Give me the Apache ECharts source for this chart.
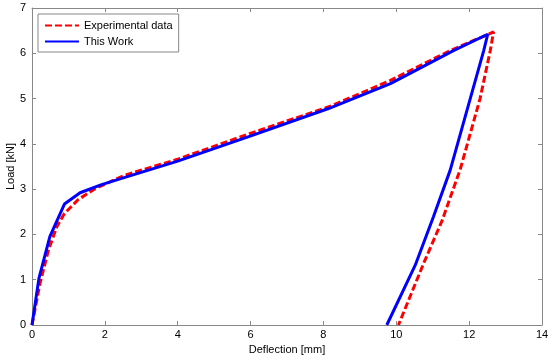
<!DOCTYPE html>
<html>
<head>
<meta charset="utf-8">
<script src="https://cdn.jsdelivr.net/npm/echarts@6/dist/echarts.min.js"></script>
<style>html,body{margin:0;padding:0;background:#fff}#c{width:550px;height:358px}</style>
</head>
<body>
<div id="c"></div>
<script>
var expX = [0, 0.22, 0.45, 0.68, 0.89, 1.27, 1.73, 2.19, 2.55, 4.0, 5.99, 8.19, 9.84, 11.48, 12.67, 12.58, 12.3, 11.76, 11.26, 10.75, 10.06];
var expY = [0, 0.92, 1.65, 2.17, 2.46, 2.77, 3.01, 3.18, 3.31, 3.66, 4.23, 4.83, 5.40, 6.06, 6.47, 6.06, 5.0, 3.45, 2.31, 1.36, 0];
var workX = [0, 0.19, 0.49, 0.89, 1.32, 1.91, 2.55, 4.0, 5.99, 8.14, 9.84, 11.57, 12.51, 12.4, 11.48, 11.02, 10.52, 9.74];
var workY = [0, 1.03, 1.95, 2.67, 2.92, 3.10, 3.26, 3.62, 4.17, 4.78, 5.33, 6.06, 6.42, 6.06, 3.42, 2.39, 1.32, 0];
var xTicks = [0, 2, 4, 6, 8, 10, 12, 14];
var yTicks = [0, 1, 2, 3, 4, 5, 6, 7];

function pairs(xs, ys) { return xs.map(function (x, i) { return [x, ys[i]]; }); }

var chart = echarts.init(document.getElementById('c'));
var font = 'Liberation Sans, Arial, sans-serif';
var axisCol = '#888888';
function baseAxis(pos, isX, labels) {
  return {
    type: 'value', position: pos,
    min: 0, max: isX ? 14 : 7, interval: isX ? 2 : 1,
    axisLine: { show: true, onZero: false, lineStyle: { color: axisCol, width: 1 } },
    axisTick: { show: true, inside: true, length: 4, lineStyle: { color: axisCol } },
    axisLabel: { show: labels, color: '#000', fontFamily: font, fontSize: 11, margin: 4 },
    splitLine: { show: false }
  };
}
var xBottom = baseAxis('bottom', true, true);
xBottom.name = 'Deflection [mm]'; xBottom.nameLocation = 'middle'; xBottom.nameGap = 17;
xBottom.nameTextStyle = { color: '#000', fontFamily: font, fontSize: 11 };
var yLeft = baseAxis('left', false, true);
yLeft.name = 'Load [kN]'; yLeft.nameLocation = 'middle'; yLeft.nameGap = 16;
yLeft.nameMoveOverlap = false;
yLeft.nameTextStyle = { color: '#000', fontFamily: font, fontSize: 11 };
yLeft.axisLabel.margin = 6;

chart.setOption({
  animation: false,
  backgroundColor: '#fff',
  grid: { left: 32, right: 8, top: 8, bottom: 33, containLabel: false, outerBoundsMode: 'none' },
  xAxis: [xBottom, baseAxis('top', true, false)],
  yAxis: [yLeft, baseAxis('right', false, false)],
  legend: {
    orient: 'vertical', left: 38, top: 14,
    backgroundColor: '#fff', borderColor: '#888', borderWidth: 1,
    padding: [6, 6, 5, 6], itemGap: 5, itemWidth: 34, itemHeight: 12,
    itemStyle: { color: 'rgba(0,0,0,0)', borderWidth: 0 },
    textStyle: { color: '#000', fontFamily: font, fontSize: 11 },
    data: ['Experimental data', 'This Work']
  },
  series: [
    {
      name: 'Experimental data', type: 'line', xAxisIndex: 0, yAxisIndex: 0,
      data: pairs(expX, expY), symbol: 'none', smooth: false,
      lineStyle: { color: '#ff0000', width: 3, type: [7, 3] },
      itemStyle: { color: '#ff0000' }, z: 2
    },
    {
      name: 'This Work', type: 'line', xAxisIndex: 0, yAxisIndex: 0,
      data: pairs(workX, workY), symbol: 'none', smooth: false,
      lineStyle: { color: '#0000ff', width: 3 },
      itemStyle: { color: '#0000ff' }, z: 3
    }
  ]
});
</script>
</body>
</html>
